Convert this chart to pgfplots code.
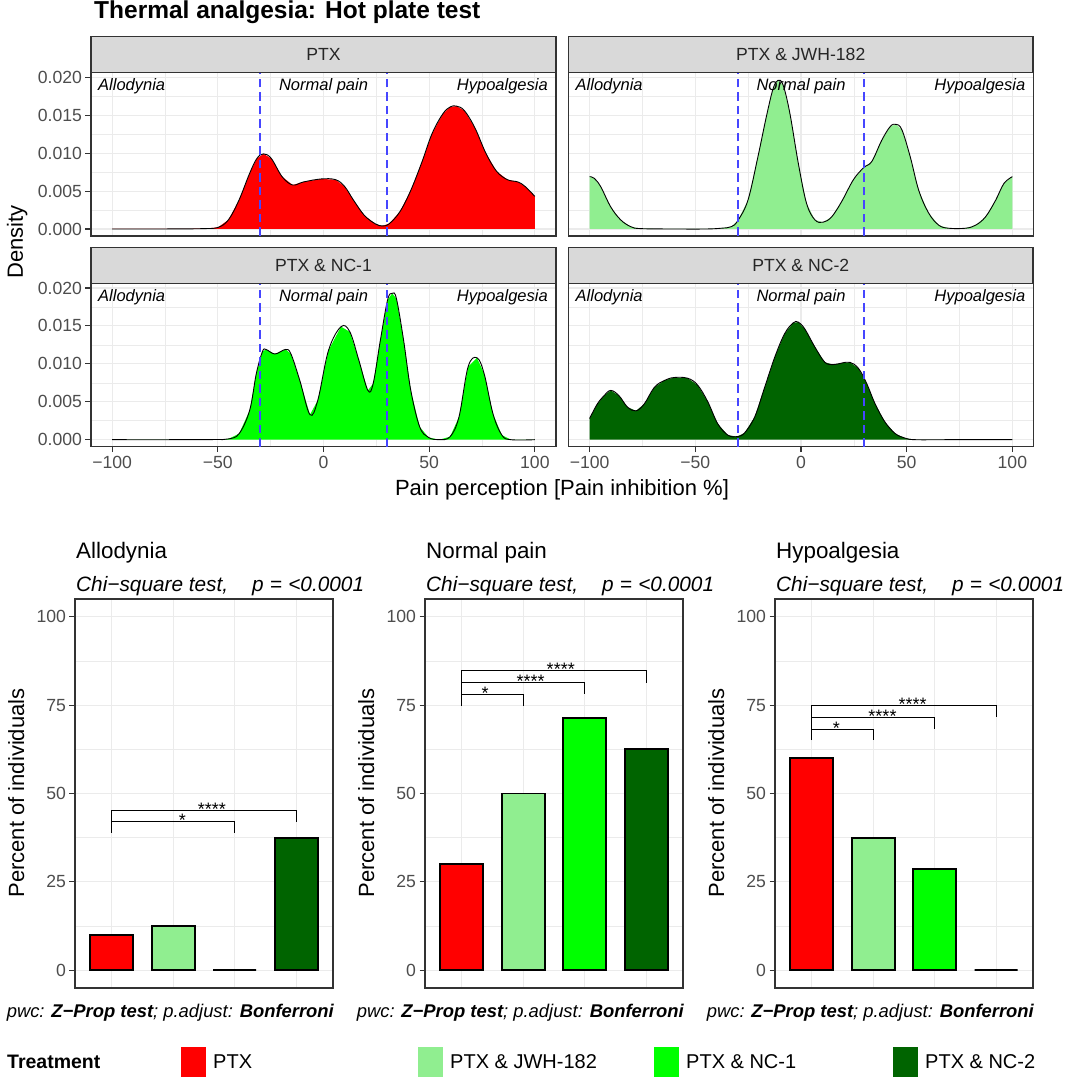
\documentclass[border=0pt]{standalone}
\usepackage{fontspec}
\setmainfont{Liberation Sans}
\usepackage{pgfplots}
\usepackage{pgfplotstable}
\pgfplotsset{compat=1.18}

\definecolor{gray92}{HTML}{EBEBEB}
\definecolor{gray85}{HTML}{D9D9D9}
\definecolor{gray20}{HTML}{333333}
\definecolor{gray30}{HTML}{4D4D4D}
\definecolor{cPTX}{HTML}{FF0000}
\definecolor{cJWH}{HTML}{90EE90}
\definecolor{cNCa}{HTML}{00FF00}
\definecolor{cNCb}{HTML}{006400}
\definecolor{dashblue}{RGB}{70,70,255}

\newcommand\fs[1]{\fontsize{#1}{#1}\selectfont}

\pgfplotstableread{
x y
-100 0
-80 0
-65 0.00002
-57 0.00005
-50 0.0002
-45 0.0012
-40 0.0038
-35 0.0073
-31.5 0.0093
-28.4 0.0099
-24.7 0.0093
-19.6 0.0069
-14.6 0.0058
-9.5 0.0062
-1.0 0.0066
5.7 0.0065
10 0.0056
14.2 0.0038
19.3 0.0018
24.4 0.0007
27.7 0.0004
31.1 0.0007
36.2 0.0023
41.3 0.0051
46.4 0.0087
51.4 0.0126
56.5 0.0152
60 0.0161
62.9 0.0162
66.7 0.0156
71.7 0.0133
76.8 0.0100
81.9 0.0076
87.0 0.0065
92 0.0062
95.4 0.0056
100 0.0043
}\ptx

\pgfplotstableread{
x y
-100 0.0069
-97.9 0.0067
-94.8 0.0056
-90 0.0029
-85.3 0.0012
-80.5 0.0003
-75.8 0.00005
-60 0
-45 0
-37.8 0.0001
-33 0.0003
-29.9 0.0011
-25.1 0.0038
-20.4 0.0095
-16.4 0.0148
-13.2 0.0185
-10.9 0.0196
-8.5 0.0190
-5.3 0.0153
-1.3 0.0087
2.6 0.0034
6.6 0.0012
10.5 0.0009
14.5 0.0016
19.2 0.0036
24.8 0.0065
29.7 0.0081
33.5 0.0089
38.2 0.0117
42.2 0.0135
44.9 0.0138
47.7 0.0131
51.7 0.0095
55.7 0.0051
60.4 0.0021
65.2 0.0005
69.9 0.0001
77.8 0.0001
82.6 0.0005
87.3 0.0016
92.1 0.0038
96 0.0060
100 0.0069
}\jwh

\pgfplotstableread{
x y
-100 0
-70 0
-52 0.00002
-45 0.0001
-39.9 0.0008
-34.9 0.0039
-31.8 0.0087
-28.9 0.0116
-27.2 0.0119
-23 0.0113
-17.9 0.0119
-15.4 0.0113
-11.2 0.0078
-6.4 0.0033
-2.7 0.0052
2.4 0.0118
8.3 0.0149
12.5 0.0142
16.7 0.0105
21 0.0065
23.5 0.0074
26.9 0.0131
30.3 0.0184
32.5 0.0193
34.5 0.0186
37.9 0.0131
41.3 0.0065
45.5 0.0017
49.7 0.0003
54.8 0
59.9 0.0004
64.1 0.0030
68.4 0.0096
72.6 0.0108
76 0.0087
80.2 0.0034
84.4 0.0006
88.7 0
100 0
}\nca

\pgfplotstableread{
x y
-100 0.0028
-96.4 0.0047
-93.2 0.0058
-90 0.0065
-86.1 0.0058
-82.1 0.0043
-78.1 0.0038
-74.2 0.0047
-69.4 0.0069
-64.7 0.0078
-60 0.0082
-53.6 0.0081
-48.9 0.0072
-44.1 0.0050
-39.4 0.0021
-34.6 0.0006
-30.2 0.0004
-26.7 0.0009
-21.9 0.0030
-17.2 0.0069
-12.4 0.0109
-7.7 0.0140
-3.7 0.0154
-1.3 0.0155
1.8 0.0146
6.6 0.0122
11.3 0.0102
15.3 0.0099
19.2 0.0101
23.2 0.0102
27.2 0.0094
31.1 0.0074
35.1 0.0047
39.8 0.0023
44.6 0.0008
49.3 0.0002
54.1 0
70 0
100 0
}\ncb

\pgfplotsset{
  common/.style={
    scale only axis, anchor=south west,
    grid=both,
    major grid style={draw=gray92, line width=1.1pt},
    minor grid style={draw=gray92, line width=0.55pt},
    axis line style={draw=gray20, line width=1.4pt},
    tick style={draw=gray20, line width=1.1pt},
    major tick length=5.5pt, minor tick length=0pt,
    tick align=outside, tick pos=left,
    ticklabel style={font=\fs{17.6}, text=gray30},
    scaled ticks=false,
  },
  dens/.style={common,
    width=465pt, height=163.3pt,
    xmin=-110, xmax=110, ymin=-0.000923, ymax=0.020606,
    xtick={-100,-50,0,50,100}, minor xtick={-75,-25,25,75},
    ytick={0,0.005,0.01,0.015,0.02}, minor ytick={0.0025,0.0075,0.0125,0.0175},
    xticklabels={−100,−50,0,50,100},
    yticklabels={0.000,0.005,0.010,0.015,0.020},
  },
  notx/.style={xticklabels={}, xtick style={draw=none}},
  noty/.style={yticklabels={}, ytick style={draw=none}},
  bars/.style={common,
    width=258pt, height=389pt,
    xmin=0.4, xmax=4.6, ymin=-5, ymax=105,
    xtick={1,2,3,4}, xticklabels={}, xtick style={draw=none},
    ytick={0,25,50,75,100}, minor ytick={12.5,37.5,62.5,87.5},
    yticklabels={0,25,50,75,100},
  },
  fillc/.style={draw=none, fill=#1},
  curve/.style={draw=black, line width=0.9pt, smooth, tension=0.6},
  bar/.style={ybar, bar width=0.7, bar shift=0pt, fill=#1, draw=black, line width=1.9pt},
  brk/.style={draw=black, line width=1.1pt},
}

\newcommand\regionlabels{%
  \draw[color=dashblue, line width=2pt, dash pattern=on 8.5pt off 5pt] (axis cs:-30,-0.000923) -- (axis cs:-30,0.020606);
  \draw[color=dashblue, line width=2pt, dash pattern=on 8.5pt off 5pt] (axis cs:30,-0.000923) -- (axis cs:30,0.020606);
  \node[anchor=base west, inner sep=0, font=\fs{16.5}\itshape] at (axis cs:-106.7,0.0182) {Allodynia};
  \node[anchor=base, inner sep=0, font=\fs{16.5}\itshape] at (axis cs:0,0.0182) {Normal pain};
  \node[anchor=base east, inner sep=0, font=\fs{16.5}\itshape] at (axis cs:106.2,0.0182) {Hypoalgesia};
}
\newcommand\stars[3]{\node[anchor=base, inner sep=0, font=\fs{18}] at (axis cs:#1,#2) {#3};}

\begin{document}
\begin{tikzpicture}
\path[use as bounding box] (0,0) rectangle (1065pt,1080pt);

\node[anchor=base west, inner sep=0] at (94pt,1061.5pt) {\fs{24.5}\bfseries Thermal analgesia: Hot plate test};

% ---- density panels ----
\begin{axis}[dens, notx, at={(91pt,844pt)}]
\addplot[fillc=cPTX] table {\ptx} \closedcycle;
\addplot[curve] table {\ptx};
\regionlabels
\end{axis}
\begin{axis}[dens, notx, noty, at={(568.5pt,844pt)}]
\addplot[fillc=cJWH] table {\jwh} \closedcycle;
\addplot[curve] table {\jwh};
\regionlabels
\end{axis}
\begin{axis}[dens, at={(91pt,633.3pt)}]
\addplot[fillc=cNCa] table {\nca} \closedcycle;
\addplot[curve] table {\nca};
\regionlabels
\end{axis}
\begin{axis}[dens, noty, at={(568.5pt,633.3pt)}]
\addplot[fillc=cNCb] table {\ncb} \closedcycle;
\addplot[curve] table {\ncb};
\regionlabels
\end{axis}

% strips
\foreach \xa/\xb/\ya/\yb/\t in {91/556/1007.3/1043.3/PTX, 568.5/1033/1007.3/1043.3/PTX \& JWH-182, 91/556/796.7/832.7/PTX \& NC-1, 568.5/1033/796.7/832.7/PTX \& NC-2}{
  \draw[fill=gray85, draw=gray20, line width=1.4pt] (\xa pt,\ya pt) rectangle (\xb pt,\yb pt);
  \node[font=\fs{17.6}, text=black!85, inner sep=0] at ({(\xa+\xb)/2*1pt},{(\ya+\yb)/2*1pt}) {\t};
}

\node[rotate=90, anchor=base, inner sep=0, font=\fs{22}] at (23pt,838pt) {Density};
\node[anchor=base, inner sep=0, font=\fs{22}] at (562pt,584pt) {Pain perception [Pain inhibition \%]};

% ---- bar panels ----
\begin{axis}[bars, at={(75pt,92pt)}]
\addplot[bar=cPTX] coordinates {(1,10)};
\addplot[bar=cJWH] coordinates {(2,12.5)};
\addplot[bar=cNCa] coordinates {(3,0)};
\addplot[bar=cNCb] coordinates {(4,37.5)};
\addplot[brk] coordinates {(1,38.9) (1,42) (3,42) (3,38.9)};
\addplot[brk] coordinates {(1,42) (1,45.3) (4,45.3) (4,42)};
\stars{2.15}{40.6}{*}
\stars{2.63}{43.9}{****}
\end{axis}
\begin{axis}[bars, at={(425pt,92pt)}]
\addplot[bar=cPTX] coordinates {(1,30)};
\addplot[bar=cJWH] coordinates {(2,50)};
\addplot[bar=cNCa] coordinates {(3,71.4)};
\addplot[bar=cNCb] coordinates {(4,62.5)};
\addplot[brk] coordinates {(1,74.8) (1,78) (2,78) (2,74.8)};
\addplot[brk] coordinates {(1,78) (1,81.3) (3,81.3) (3,78)};
\addplot[brk] coordinates {(1,81.3) (1,84.7) (4,84.7) (4,81.3)};
\stars{1.38}{76.6}{*}
\stars{2.12}{79.9}{****}
\stars{2.61}{83.3}{****}
\end{axis}
\begin{axis}[bars, at={(775pt,92pt)}]
\addplot[bar=cPTX] coordinates {(1,60)};
\addplot[bar=cJWH] coordinates {(2,37.5)};
\addplot[bar=cNCa] coordinates {(3,28.6)};
\addplot[bar=cNCb] coordinates {(4,0)};
\addplot[brk] coordinates {(1,65.1) (1,68.2) (2,68.2) (2,65.1)};
\addplot[brk] coordinates {(1,68.2) (1,71.6) (3,71.6) (3,68.2)};
\addplot[brk] coordinates {(1,71.6) (1,74.8) (4,74.8) (4,71.6)};
\stars{1.40}{66.8}{*}
\stars{2.15}{70.2}{****}
\stars{2.64}{73.4}{****}
\end{axis}

\foreach \x/\t in {0/Allodynia, 350/Normal pain, 700/Hypoalgesia}{
  \node[anchor=base west, inner sep=0, font=\fs{22.4}] at ({(\x+76)*1pt},521.7pt) {\t};
  \node[anchor=base west, inner sep=0, font=\fs{20.8}\itshape] at ({(\x+76)*1pt},488pt) {Chi−square test,\hspace{1.15em}p\hspace{0.3em}=\hspace{0.3em}<0.0001};
  \node[rotate=90, anchor=base, inner sep=0, font=\fs{22}] at ({(\x+24)*1pt},287pt) {Percent of individuals};
  \node[anchor=base east, inner sep=0, font=\fs{18.4}\itshape] at ({(\x+334)*1pt},62pt) {pwc: \textbf{Z−Prop test}; p.adjust: \textbf{Bonferroni}};
}

% ---- legend ----
\node[anchor=west, inner sep=0, font=\fs{19.5}\bfseries] at (7pt,18pt) {Treatment};
\foreach \xb/\c/\t in {181/cPTX/PTX, 418/cJWH/PTX \& JWH-182, 654/cNCa/PTX \& NC-1, 893/cNCb/PTX \& NC-2}{
  \fill[\c] (\xb pt,3pt) rectangle ({(\xb+25)*1pt},33pt);
  \node[anchor=west, inner sep=0, font=\fs{20}] at ({(\xb+32)*1pt},18pt) {\t};
}
\end{tikzpicture}
\end{document}
